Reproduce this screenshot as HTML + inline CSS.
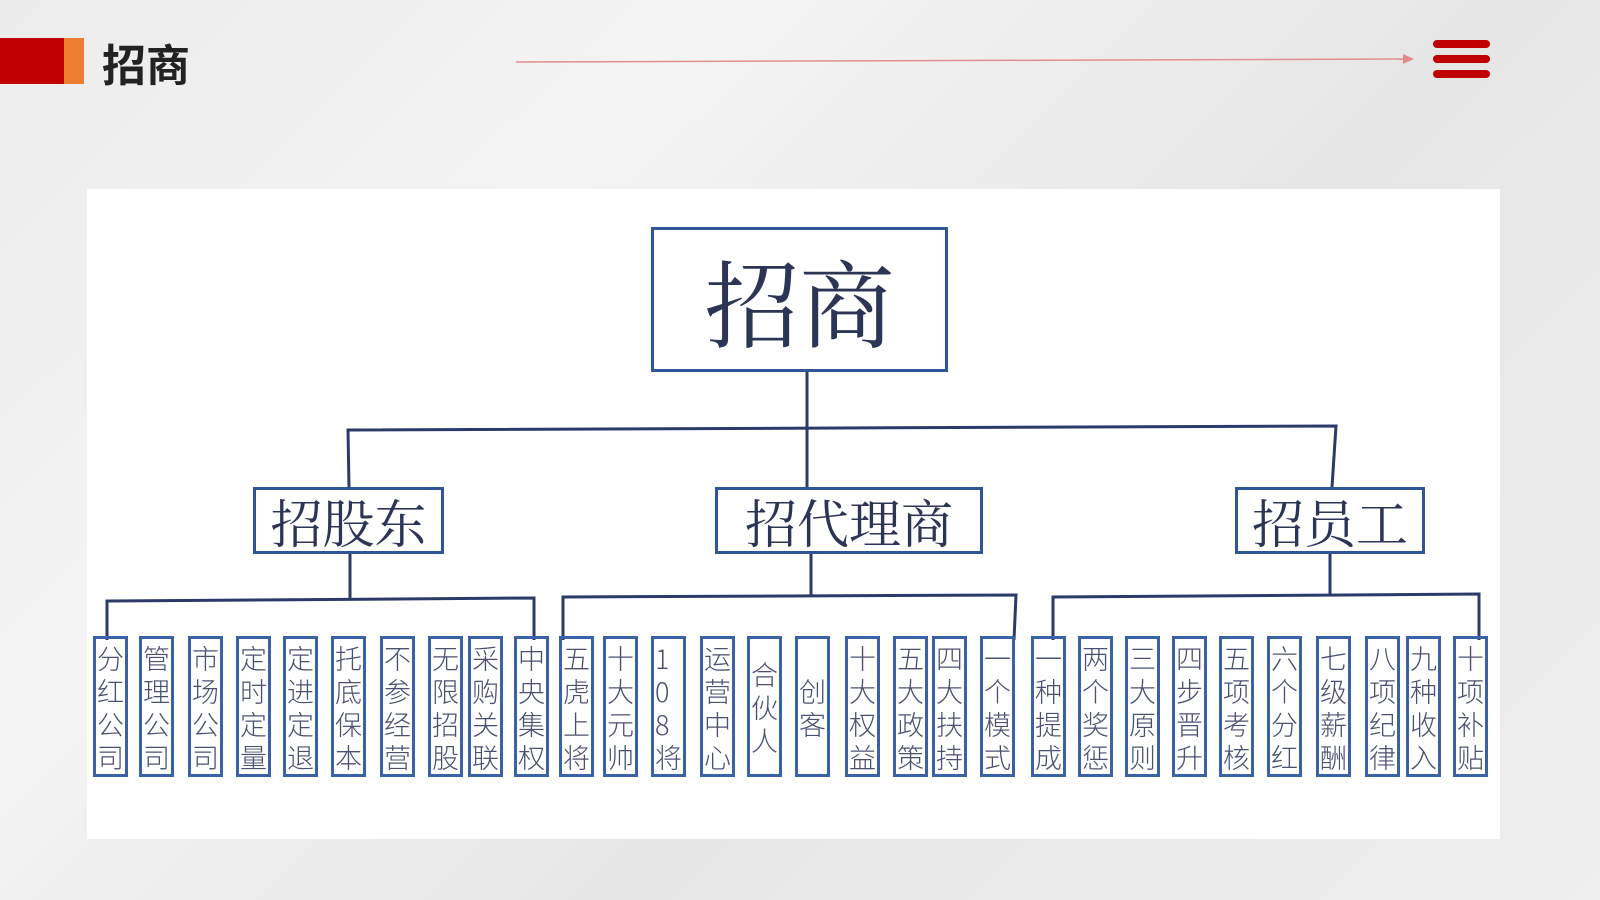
<!DOCTYPE html>
<html><head><meta charset="utf-8"><style>
body{margin:0;width:1600px;height:900px;overflow:hidden;position:relative;font-family:"Liberation Sans","Noto Sans CJK SC",sans-serif;
background:linear-gradient(135deg,#ececec 0%,#f4f4f4 30%,#e6e6e6 60%,#efefef 100%);}
.a{position:absolute}
.box{position:absolute;border:3px solid #2f5597;box-sizing:border-box;background:#fff;color:#2d3556;font-family:"Noto Serif CJK SC","Liberation Serif",serif;display:flex;align-items:center;justify-content:center}
.leaf{position:absolute;top:636px;width:35px;height:141px;border:3px solid #3a62a8;box-sizing:border-box;display:flex;flex-direction:column;align-items:center;justify-content:center;font-family:"Noto Sans CJK SC",sans-serif;font-size:27px;line-height:33px;color:#4a5070;font-weight:300}
</style></head><body>
<div class="a" style="left:0;top:38px;width:64px;height:46px;background:#c00000"></div>
<div class="a" style="left:64px;top:38px;width:20px;height:46px;background:#ed7d31"></div>
<div class="a" style="left:102px;top:34px;font-size:44px;font-weight:bold;color:#222;font-family:'Noto Sans CJK SC',sans-serif;line-height:56px">招商</div>
<svg class="a" style="left:0;top:0" width="1600" height="900">
<line x1="516" y1="62" x2="1405" y2="59" stroke="#e09090" stroke-width="1.5"/>
<polygon points="1403,54 1414,59 1403,64" fill="#e08a8a"/>
<rect x="1433" y="40" width="57" height="8" rx="4" fill="#c00000"/>
<rect x="1433" y="55" width="57" height="8" rx="4" fill="#c00000"/>
<rect x="1433" y="70" width="57" height="8" rx="4" fill="#c00000"/>
</svg>
<div class="a" style="left:87px;top:189px;width:1413px;height:650px;background:#fff"></div>
<svg class="a" style="left:0;top:0" width="1600" height="900" fill="none" stroke="#2c3a6a" stroke-width="3">
<line x1="807" y1="371" x2="807" y2="487"/>
<polyline points="349,487 348,430 1336,426 1332,487"/>
<line x1="350" y1="553" x2="350" y2="600"/>
<polyline points="107,640 107,601 534,598 534,640"/>
<line x1="811" y1="553" x2="811" y2="597"/>
<polyline points="563,640 563,597 1016,595 1014,640"/>
<line x1="1330" y1="553" x2="1330" y2="596"/>
<polyline points="1053,640 1053,597 1479,594 1479,640"/>
</svg>
<div class="box" style="left:651px;top:227px;width:297px;height:145px;font-size:95px">招商</div>
<div class="box" style="left:253px;top:487px;width:191px;height:67px;font-size:52px">招股东</div>
<div class="box" style="left:715px;top:487px;width:268px;height:67px;font-size:52px">招代理商</div>
<div class="box" style="left:1235px;top:487px;width:190px;height:67px;font-size:52px">招员工</div>
<div class="leaf" style="left:93px">分<br>红<br>公<br>司</div>
<div class="leaf" style="left:139px">管<br>理<br>公<br>司</div>
<div class="leaf" style="left:188px">市<br>场<br>公<br>司</div>
<div class="leaf" style="left:236px">定<br>时<br>定<br>量</div>
<div class="leaf" style="left:283px">定<br>进<br>定<br>退</div>
<div class="leaf" style="left:331px">托<br>底<br>保<br>本</div>
<div class="leaf" style="left:380px">不<br>参<br>经<br>营</div>
<div class="leaf" style="left:428px">无<br>限<br>招<br>股</div>
<div class="leaf" style="left:468px">采<br>购<br>关<br>联</div>
<div class="leaf" style="left:514px">中<br>央<br>集<br>权</div>
<div class="leaf" style="left:559px">五<br>虎<br>上<br>将</div>
<div class="leaf" style="left:603px">十<br>大<br>元<br>帅</div>
<div class="leaf" style="left:651px">1<br>0<br>8<br>将</div>
<div class="leaf" style="left:700px">运<br>营<br>中<br>心</div>
<div class="leaf" style="left:747px">合<br>伙<br>人</div>
<div class="leaf" style="left:795px">创<br>客</div>
<div class="leaf" style="left:845px">十<br>大<br>权<br>益</div>
<div class="leaf" style="left:893px">五<br>大<br>政<br>策</div>
<div class="leaf" style="left:932px">四<br>大<br>扶<br>持</div>
<div class="leaf" style="left:980px">一<br>个<br>模<br>式</div>
<div class="leaf" style="left:1031px">一<br>种<br>提<br>成</div>
<div class="leaf" style="left:1078px">两<br>个<br>奖<br>惩</div>
<div class="leaf" style="left:1125px">三<br>大<br>原<br>则</div>
<div class="leaf" style="left:1172px">四<br>步<br>晋<br>升</div>
<div class="leaf" style="left:1219px">五<br>项<br>考<br>核</div>
<div class="leaf" style="left:1267px">六<br>个<br>分<br>红</div>
<div class="leaf" style="left:1316px">七<br>级<br>薪<br>酬</div>
<div class="leaf" style="left:1365px">八<br>项<br>纪<br>律</div>
<div class="leaf" style="left:1406px">九<br>种<br>收<br>入</div>
<div class="leaf" style="left:1453px">十<br>项<br>补<br>贴</div>
</body></html>
